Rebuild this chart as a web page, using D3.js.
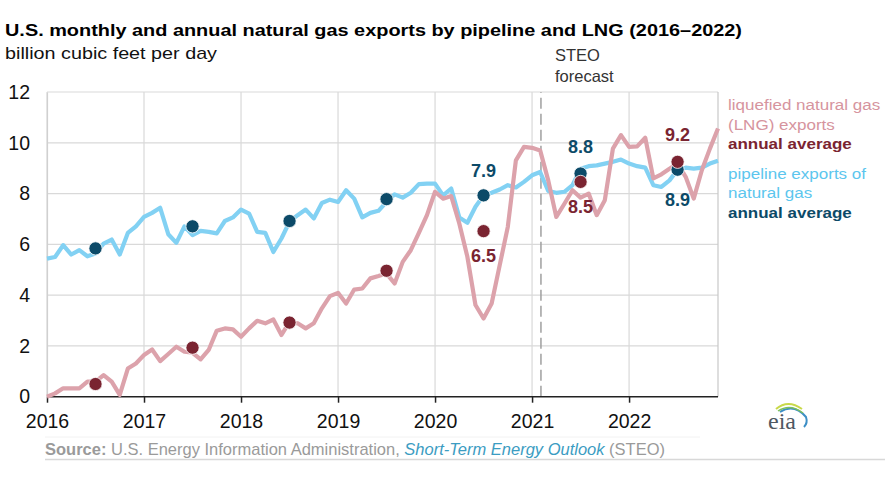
<!DOCTYPE html>
<html lang="en">
<head>
    <meta charset="UTF-8">
    <title>U.S. natural gas exports</title>
    <script src="https://cdn.jsdelivr.net/npm/d3@7"></script>
    <style>
        body {
            margin: 0;
            background: #fff;
        }
        svg {
            font-family: Arial, "Liberation Sans", sans-serif;
        }
    </style>
</head>
<body>
<div id="chart"></div>
<script>
    // monthly values, Jan 2016 .. Dec 2022 (bcf/d)
    const pipeline = [
        5.44, 5.50, 5.97, 5.60, 5.77, 5.53, 5.64, 6.03, 6.19, 5.60, 6.45, 6.71,
        7.08, 7.24, 7.44, 6.40, 6.06, 6.71, 6.36, 6.53, 6.49, 6.43, 6.92, 7.06,
        7.37, 7.21, 6.49, 6.45, 5.70, 6.23, 6.89, 7.15, 7.37, 7.02, 7.63, 7.76,
        7.67, 8.13, 7.80, 7.06, 7.24, 7.32, 7.67, 7.97, 7.84, 8.03, 8.37, 8.39,
        8.39, 7.93, 8.20, 7.06, 6.85, 7.48, 7.93, 8.03, 8.16, 8.33, 8.24, 8.46,
        8.72, 8.85, 8.10, 8.03, 8.07, 8.33, 8.98, 9.08, 9.11, 9.18, 9.25, 9.34,
        9.18, 9.08, 9.02, 8.33, 8.26, 8.52, 8.94, 9.02, 8.98, 9.02, 9.18, 9.29
    ]
    const lng = [
        0.00, 0.13, 0.33, 0.33, 0.33, 0.59, 0.59, 0.85, 0.59, 0.07, 1.11, 1.31,
        1.64, 1.86, 1.40, 1.68, 1.97, 1.77, 1.73, 1.47, 1.84, 2.60, 2.69, 2.65,
        2.36, 2.69, 2.99, 2.89, 3.04, 2.43, 2.95, 2.89, 2.69, 2.89, 3.48, 3.96,
        4.09, 3.67, 4.22, 4.26, 4.66, 4.75, 4.85, 4.46, 5.31, 5.77, 6.45, 7.15,
        8.07, 7.80, 7.90, 6.82, 5.51, 3.61, 3.08, 3.67, 5.18, 6.69, 9.31, 9.84,
        9.80, 9.70, 8.52, 7.08, 7.60, 8.13, 7.84, 8.00, 7.15, 7.74, 9.77, 10.30,
        9.84, 9.86, 10.20, 8.60, 8.76, 8.98, 9.18, 8.66, 7.80, 8.92, 9.77, 10.56
    ]

    const years = [2016, 2017, 2018, 2019, 2020, 2021, 2022]
    const pipelineAnnual = [5.84, 6.71, 6.92, 7.78, 7.93, 8.79, 8.94]
    const lngAnnual = [0.50, 1.93, 2.92, 4.96, 6.52, 8.46, 9.25]

    // labelled annual points: [year, value, text]
    const pipelineLabels = [[2020, 7.93, "7.9"], [2021, 8.79, "8.8"], [2022, 8.94, "8.9"]]
    const lngLabels = [[2020, 6.52, "6.5"], [2021, 8.46, "8.5"], [2022, 9.25, "9.2"]]

    const yTicks = [0, 2, 4, 6, 8, 10, 12]
    const forecastStart = 2021 + 1.1 / 12

    const width = 885
    const height = 479
    const margin = {left: 47, right: 167, top: 92, bottom: 82}

    const colPipe = "#82d1f3"
    const colPipeDot = "#0c4a68"
    const colLng = "#dca2ab"
    const colLngDot = "#7a2431"
    const stretch = 1.12   // the source artwork's text runs a bit wide

    const svg = d3.select("#chart")
        .append("svg")
        .attr("width", width)
        .attr("height", height)
        .attr("viewBox", `0 0 ${width} ${height}`)

    const x = d3.scaleLinear()
        .domain([2016, 2016 + 83 / 12])
        .range([margin.left, width - margin.right])
    const y = d3.scaleLinear()
        .domain([0, 12])
        .range([height - margin.bottom - 0.3, margin.top])

    const monthX = i => x(2016 + i / 12)
    const midYear = yr => yr + 0.5

    // grid
    svg.append("g")
        .selectAll("line.h")
        .data(yTicks.slice(1))
        .enter()
        .append("line")
        .attr("x1", x.range()[0])
        .attr("x2", x.range()[1])
        .attr("y1", d => y(d))
        .attr("y2", d => y(d))
        .attr("stroke", "#d9d9d9")
        .attr("stroke-width", 1.2)

    svg.append("g")
        .selectAll("line.v")
        .data(years)
        .enter()
        .append("line")
        .attr("x1", d => x(d))
        .attr("x2", d => x(d))
        .attr("y1", y(0))
        .attr("y2", y(12))
        .attr("stroke", "#d9d9d9")
        .attr("stroke-width", 1.2)

    // right frame
    svg.append("line")
        .attr("x1", x.range()[1]).attr("x2", x.range()[1])
        .attr("y1", y(0)).attr("y2", y(12))
        .attr("stroke", "#c8c8c8").attr("stroke-width", 1.2)

    // forecast divider
    svg.append("line")
        .attr("x1", x(forecastStart)).attr("x2", x(forecastStart))
        .attr("y1", y(0)).attr("y2", y(12))
        .attr("stroke", "#a0a0a0")
        .attr("stroke-width", 1.5)
        .attr("stroke-dasharray", "11,5")

    svg.append("g")
        .attr("transform", `translate(${x(forecastStart) + 14},0)`)
        .append("text")
        .attr("font-size", 16.5)
        .attr("fill", "#333")
        .selectAll("tspan")
        .data(["STEO", "forecast"])
        .enter()
        .append("tspan")
        .attr("x", 0)
        .attr("y", (d, i) => 61 + i * 21)
        .text(d => d)

    // axes
    const xAxis = d3.axisBottom(x)
        .tickValues(years)
        .tickFormat(d3.format("d"))
        .tickSize(6)
    const gx = svg.append("g")
        .attr("transform", `translate(0,${y(0)})`)
        .call(xAxis)
    gx.select(".domain").attr("stroke", "#222").attr("stroke-width", 1.5)
        .attr("d", `M${x.range()[0]},0H${x.range()[1]}`)
    gx.selectAll(".tick line").attr("stroke", "#222").attr("stroke-width", 1.5)
    gx.selectAll(".tick text")
        .attr("font-size", 19.5)
        .attr("font-family", "Arial, 'Liberation Sans', sans-serif")
        .attr("fill", "#111")
        .attr("y", 31)
        .attr("dy", 0)

    const yAxis = d3.axisLeft(y)
        .tickValues(yTicks)
        .tickSize(0)
        .tickPadding(17)
    const gy = svg.append("g")
        .attr("transform", `translate(${margin.left},0)`)
        .call(yAxis)
    gy.select(".domain").attr("stroke", "#d0d0d0").attr("stroke-width", 1.2)
    gy.selectAll(".tick text")
        .attr("font-size", 19.5)
        .attr("font-family", "Arial, 'Liberation Sans', sans-serif")
        .attr("fill", "#111")

    // lines
    const line = d3.line()
        .x((d, i) => monthX(i))
        .y(d => y(d))

    svg.append("path")
        .datum(pipeline)
        .attr("fill", "none")
        .attr("stroke", colPipe)
        .attr("stroke-width", 4.2)
        .attr("stroke-linejoin", "round")
        .attr("d", line)

    svg.append("path")
        .datum(lng)
        .attr("fill", "none")
        .attr("stroke", colLng)
        .attr("stroke-width", 4.2)
        .attr("stroke-linejoin", "round")
        .attr("d", line)

    // annual dots
    svg.append("g")
        .selectAll("circle")
        .data(pipelineAnnual)
        .enter()
        .append("circle")
        .attr("cx", (d, i) => x(midYear(years[i])))
        .attr("cy", d => y(d))
        .attr("r", 6.6)
        .attr("fill", colPipeDot)
        .attr("stroke", "#fff")
        .attr("stroke-width", 0.8)

    svg.append("g")
        .selectAll("circle")
        .data(lngAnnual)
        .enter()
        .append("circle")
        .attr("cx", (d, i) => x(midYear(years[i])))
        .attr("cy", d => y(d))
        .attr("r", 6.6)
        .attr("fill", colLngDot)
        .attr("stroke", "#fff")
        .attr("stroke-width", 0.8)

    // value labels
    const pipeOffset = {2020: -18, 2021: -21, 2022: 36}
    const lngOffset = {2020: 31, 2021: 31, 2022: -21}

    svg.append("g")
        .selectAll("text")
        .data(pipelineLabels)
        .enter()
        .append("text")
        .attr("x", d => x(midYear(d[0])))
        .attr("y", d => y(d[1]) + pipeOffset[d[0]])
        .attr("text-anchor", "middle")
        .attr("font-size", 18)
        .attr("font-weight", "bold")
        .attr("fill", colPipeDot)
        .text(d => d[2])

    svg.append("g")
        .selectAll("text")
        .data(lngLabels)
        .enter()
        .append("text")
        .attr("x", d => x(midYear(d[0])))
        .attr("y", d => y(d[1]) + lngOffset[d[0]])
        .attr("text-anchor", "middle")
        .attr("font-size", 18)
        .attr("font-weight", "bold")
        .attr("fill", colLngDot)
        .text(d => d[2])

    // legend
    const legend = [
        {text: "liquefied natural gas", color: "#d6949e", bold: false, y: 110.5},
        {text: "(LNG) exports", color: "#d6949e", bold: false, y: 130},
        {text: "annual average", color: colLngDot, bold: true, y: 149.5},
        {text: "pipeline exports of", color: "#5cc6ee", bold: false, y: 179},
        {text: "natural gas", color: "#5cc6ee", bold: false, y: 198.5},
        {text: "annual average", color: colPipeDot, bold: true, y: 218}
    ]
    svg.append("g")
        .attr("transform", `translate(728,0) scale(${stretch * 0.98},1)`)
        .selectAll("text")
        .data(legend)
        .enter()
        .append("text")
        .attr("x", 0)
        .attr("y", d => d.y)
        .attr("font-size", 15.5)
        .attr("font-weight", d => d.bold ? "bold" : "normal")
        .attr("fill", d => d.color)
        .text(d => d.text)

    // titles
    const head = svg.append("g")
        .attr("transform", `translate(5,0) scale(${stretch},1)`)
    head.append("text")
        .attr("x", 0)
        .attr("y", 36)
        .attr("font-size", 16.2)
        .attr("font-weight", "bold")
        .attr("fill", "#000")
        .attr("textLength", 737 / stretch)
        .attr("lengthAdjust", "spacingAndGlyphs")
        .text("U.S. monthly and annual natural gas exports by pipeline and LNG (2016\u20132022)")

    head.append("text")
        .attr("x", 0)
        .attr("y", 59.5)
        .attr("font-size", 17)
        .attr("fill", "#111")
        .attr("textLength", 212 / stretch)
        .attr("lengthAdjust", "spacingAndGlyphs")
        .text("billion cubic feet per day")

    // source
    const src = svg.append("text")
        .attr("x", 45)
        .attr("y", 455)
        .attr("font-size", 16.2)
        .attr("fill", "#9a9a9a")
        .attr("textLength", 620)
        .attr("lengthAdjust", "spacingAndGlyphs")
    src.append("tspan").attr("font-weight", "bold").text("Source:")
    src.append("tspan").text(" U.S. Energy Information Administration, ")
    src.append("tspan").attr("font-style", "italic").attr("fill", "#3b9cc2").text("Short-Term Energy Outlook")
    src.append("tspan").text(" (STEO)")

    svg.append("line")
        .attr("x1", 45).attr("x2", width)
        .attr("y1", 459.5).attr("y2", 459.5)
        .attr("stroke", "#d8d8d8").attr("stroke-width", 1.5)

    svg.append("line")
        .attr("x1", 45).attr("x2", 700)
        .attr("y1", 437).attr("y2", 437)
        .attr("stroke", "#f2f2f2").attr("stroke-width", 1)

    // eia logo
    const logo = svg.append("g").attr("transform", "translate(768,429)")
    logo.append("path")
        .attr("d", "M8,-20 Q20,-30 34,-20")
        .attr("fill", "none").attr("stroke", "#c9d94a").attr("stroke-width", 2)
    logo.append("path")
        .attr("d", "M12,-17 Q26,-26 38,-12 Q40,-6 36,-2")
        .attr("fill", "none").attr("stroke", "#3d8fc6").attr("stroke-width", 2)
    logo.append("path")
        .attr("d", "M10,-18 Q22,-26 35,-16")
        .attr("fill", "none").attr("stroke", "#7cbf5a").attr("stroke-width", 1.5)
    logo.append("text")
        .attr("x", 0)
        .attr("y", 0)
        .attr("font-family", "'Liberation Serif', 'DejaVu Serif', serif")
        .attr("font-size", 24)
        .attr("fill", "#4f5862")
        .text("eia")
</script>
</body>
</html>
